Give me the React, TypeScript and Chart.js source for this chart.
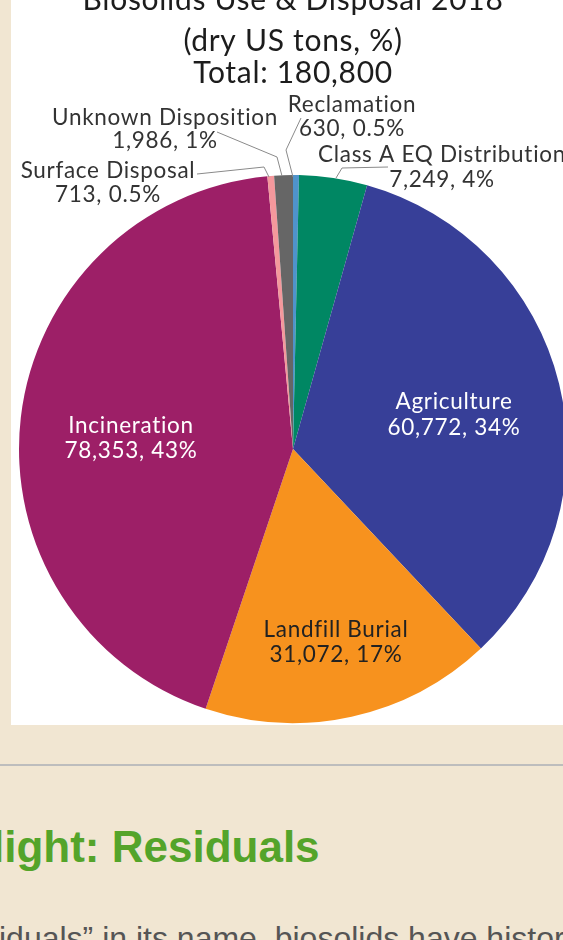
import React, { useEffect, useRef } from "react";
import { Chart, registerables } from "chart.js";

Chart.register(...registerables);

// ---- data ----
const categories = [
  "Reclamation",
  "Class A EQ Distribution",
  "Agriculture",
  "Landfill Burial",
  "Incineration",
  "Surface Disposal",
  "Unknown Disposition",
];
const tons = [630, 7249, 60772, 31072, 78353, 713, 1986];
const percents = ["0.5%", "4%", "34%", "17%", "43%", "0.5%", "1%"];
const titleLines = ["Biosolids Use & Disposal 2018", "(dry US tons, %)", "Total: 180,800"];
const headingText = "light: Residuals";
const bodyText = "iduals\u201D in its name, biosolids have historically been";

// ---- styles ----
const sliceColors = ["#4f93cb", "#008763", "#373f98", "#f7921e", "#9d1f67", "#f4989c", "#666666"];
const PANEL_X = 11;
const FONT = "Lato, 'Noto Sans', sans-serif";

// label layout (page coordinates): centre x, two baselines, text colour, leader line points
const labelLayout = [
  { x: 352, y1: 112, y2: 136, color: "#333", leader: [[301, 118], [286, 150], [293, 177]] },
  { x: 442, y1: 162, y2: 187, color: "#333", leader: [[336, 178], [342, 168], [388, 167]] },
  { x: 454, y1: 409, y2: 435, color: "#ffffff", leader: null },
  { x: 336, y1: 637, y2: 662, color: "#222", leader: null },
  { x: 131, y1: 433, y2: 458, color: "#ffffff", leader: null },
  { x: 108, y1: 178, y2: 202, color: "#333", leader: [[197, 174], [264, 167], [269, 177]] },
  { x: 165, y1: 125, y2: 148, color: "#333", leader: [[217, 132], [277, 157], [282, 176]] },
];
const titleBaselines = [10, 51, 83];

const textPlugin = {
  id: "pieText",
  afterDraw(chart: any) {
    const ctx = chart.ctx as CanvasRenderingContext2D;
    const meta = chart.getDatasetMeta(0);
    const cx = meta.data[0].x;
    ctx.save();
    // title
    ctx.fillStyle = "#1c1c1c";
    ctx.textAlign = "center";
    ctx.textBaseline = "alphabetic";
    ctx.font = `400 30px ${FONT}`;
    (ctx as any).letterSpacing = "0.7px";
    titleLines.forEach((t, i) => ctx.fillText(t, cx, titleBaselines[i]));
    // labels
    ctx.font = `400 22.5px ${FONT}`;
    (ctx as any).letterSpacing = "0.7px";
    categories.forEach((name, i) => {
      const L = labelLayout[i];
      if (L.leader) {
        ctx.strokeStyle = "#8a8a8a";
        ctx.lineWidth = 1;
        ctx.beginPath();
        L.leader.forEach((p, k) => {
          const px = p[0] - PANEL_X;
          if (k === 0) ctx.moveTo(px, p[1]);
          else ctx.lineTo(px, p[1]);
        });
        ctx.stroke();
      }
      ctx.fillStyle = L.color;
      ctx.fillText(name, L.x - PANEL_X, L.y1);
      ctx.fillText(`${tons[i].toLocaleString("en-US")}, ${percents[i]}`, L.x - PANEL_X, L.y2);
    });
    ctx.restore();
  },
};

function PieChart() {
  const ref = useRef<HTMLCanvasElement>(null);
  useEffect(() => {
    if (!ref.current) return;
    const chart = new Chart(ref.current, {
      type: "pie",
      data: {
        labels: categories,
        datasets: [
          {
            data: tons,
            backgroundColor: sliceColors,
            borderWidth: 0,
            hoverOffset: 0,
          },
        ],
      },
      options: {
        animation: false,
        responsive: false,
        maintainAspectRatio: false,
        events: [],
        layout: { padding: { left: 8, right: 44, top: 175, bottom: 2 } },
        plugins: {
          legend: { display: false },
          title: { display: false },
          tooltip: { enabled: false },
        },
      },
      plugins: [textPlugin],
    } as any);
    return () => chart.destroy();
  }, []);
  return <canvas ref={ref} width={600} height={725} style={{ display: "block", width: 600, height: 725 }} />;
}

export default function App() {
  return (
    <div
      style={{
        position: "fixed",
        left: 0,
        top: 0,
        width: 563,
        height: 940,
        overflow: "hidden",
        background: "#f1e6d2",
      }}
    >
      <div style={{ position: "absolute", left: PANEL_X, top: 0, width: 600, height: 725, background: "#ffffff" }}>
        <PieChart />
      </div>
      <div style={{ position: "absolute", left: 0, top: 764, width: 563, height: 2, background: "#bdbdbd" }} />
      <div
        style={{
          position: "absolute",
          left: -8,
          top: 825,
          whiteSpace: "nowrap",
          font: "bold 44px 'Liberation Sans', Arial, sans-serif",
          lineHeight: "44px",
          color: "#54a42a",
        }}
      >
        {headingText}
      </div>
      <div
        style={{
          position: "absolute",
          left: -1,
          top: 922,
          whiteSpace: "nowrap",
          font: "32px 'Liberation Sans', Arial, sans-serif",
          lineHeight: "32px",
          color: "#555555",
        }}
      >
        {bodyText}
      </div>
    </div>
  );
}
